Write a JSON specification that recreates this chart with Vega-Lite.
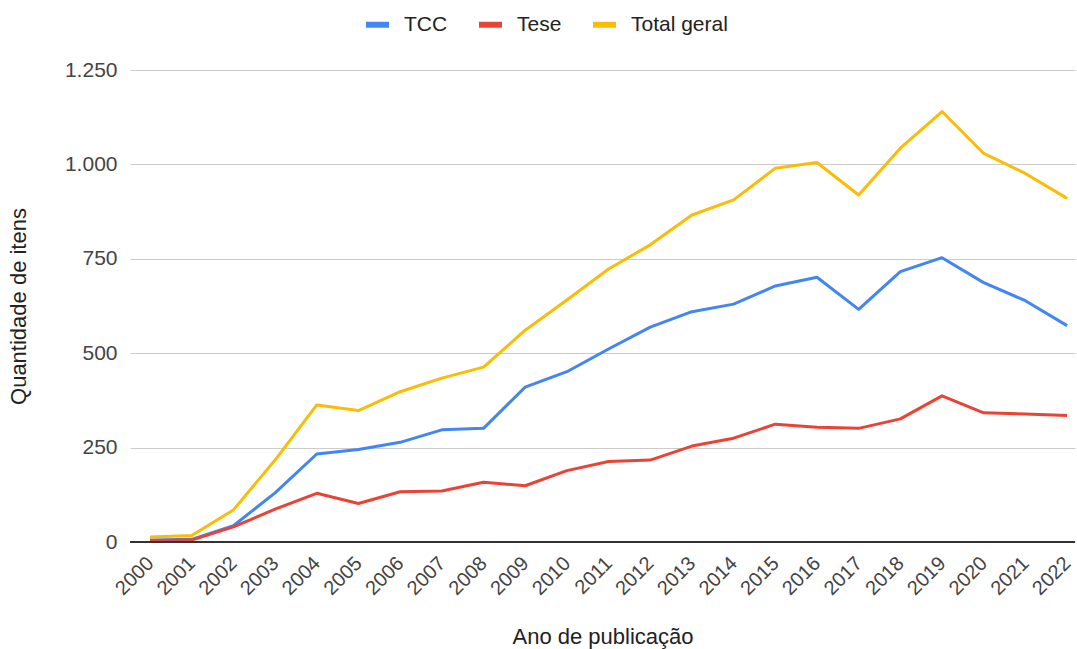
{
  "$schema": "https://vega.github.io/schema/vega-lite/v6.json",
  "width": 945,
  "height": 472,
  "autosize": {"type": "none"},
  "padding": {"left": 130, "top": 70, "right": 2, "bottom": 107},
  "background": "white",
  "config": {
    "font": "Liberation Sans",
    "view": {"stroke": null},
    "axis": {"labelFont": "Liberation Sans", "titleFont": "Liberation Sans", "labelColor": "#444444", "titleColor": "#222222", "titleFontWeight": "normal", "labelFontSize": 21, "titleFontSize": 22}
  },
  "data": {
    "values": [
      {"ano": 2000, "serie": "TCC", "qtd": 5}, {"ano": 2001, "serie": "TCC", "qtd": 7}, {"ano": 2002, "serie": "TCC", "qtd": 43}, {"ano": 2003, "serie": "TCC", "qtd": 130}, {"ano": 2004, "serie": "TCC", "qtd": 233}, {"ano": 2005, "serie": "TCC", "qtd": 245}, {"ano": 2006, "serie": "TCC", "qtd": 264}, {"ano": 2007, "serie": "TCC", "qtd": 297}, {"ano": 2008, "serie": "TCC", "qtd": 301}, {"ano": 2009, "serie": "TCC", "qtd": 410}, {"ano": 2010, "serie": "TCC", "qtd": 451}, {"ano": 2011, "serie": "TCC", "qtd": 511}, {"ano": 2012, "serie": "TCC", "qtd": 569}, {"ano": 2013, "serie": "TCC", "qtd": 610}, {"ano": 2014, "serie": "TCC", "qtd": 630}, {"ano": 2015, "serie": "TCC", "qtd": 678}, {"ano": 2016, "serie": "TCC", "qtd": 701}, {"ano": 2017, "serie": "TCC", "qtd": 616}, {"ano": 2018, "serie": "TCC", "qtd": 716}, {"ano": 2019, "serie": "TCC", "qtd": 753}, {"ano": 2020, "serie": "TCC", "qtd": 687}, {"ano": 2021, "serie": "TCC", "qtd": 639}, {"ano": 2022, "serie": "TCC", "qtd": 573},
      {"ano": 2000, "serie": "Tese", "qtd": 3}, {"ano": 2001, "serie": "Tese", "qtd": 5}, {"ano": 2002, "serie": "Tese", "qtd": 40}, {"ano": 2003, "serie": "Tese", "qtd": 87}, {"ano": 2004, "serie": "Tese", "qtd": 129}, {"ano": 2005, "serie": "Tese", "qtd": 102}, {"ano": 2006, "serie": "Tese", "qtd": 133}, {"ano": 2007, "serie": "Tese", "qtd": 135}, {"ano": 2008, "serie": "Tese", "qtd": 158}, {"ano": 2009, "serie": "Tese", "qtd": 149}, {"ano": 2010, "serie": "Tese", "qtd": 189}, {"ano": 2011, "serie": "Tese", "qtd": 213}, {"ano": 2012, "serie": "Tese", "qtd": 217}, {"ano": 2013, "serie": "Tese", "qtd": 254}, {"ano": 2014, "serie": "Tese", "qtd": 275}, {"ano": 2015, "serie": "Tese", "qtd": 312}, {"ano": 2016, "serie": "Tese", "qtd": 304}, {"ano": 2017, "serie": "Tese", "qtd": 301}, {"ano": 2018, "serie": "Tese", "qtd": 326}, {"ano": 2019, "serie": "Tese", "qtd": 387}, {"ano": 2020, "serie": "Tese", "qtd": 342}, {"ano": 2021, "serie": "Tese", "qtd": 339}, {"ano": 2022, "serie": "Tese", "qtd": 335},
      {"ano": 2000, "serie": "Total geral", "qtd": 13}, {"ano": 2001, "serie": "Total geral", "qtd": 17}, {"ano": 2002, "serie": "Total geral", "qtd": 85}, {"ano": 2003, "serie": "Total geral", "qtd": 217}, {"ano": 2004, "serie": "Total geral", "qtd": 363}, {"ano": 2005, "serie": "Total geral", "qtd": 348}, {"ano": 2006, "serie": "Total geral", "qtd": 398}, {"ano": 2007, "serie": "Total geral", "qtd": 434}, {"ano": 2008, "serie": "Total geral", "qtd": 463}, {"ano": 2009, "serie": "Total geral", "qtd": 561}, {"ano": 2010, "serie": "Total geral", "qtd": 641}, {"ano": 2011, "serie": "Total geral", "qtd": 723}, {"ano": 2012, "serie": "Total geral", "qtd": 787}, {"ano": 2013, "serie": "Total geral", "qtd": 866}, {"ano": 2014, "serie": "Total geral", "qtd": 906}, {"ano": 2015, "serie": "Total geral", "qtd": 990}, {"ano": 2016, "serie": "Total geral", "qtd": 1005}, {"ano": 2017, "serie": "Total geral", "qtd": 919}, {"ano": 2018, "serie": "Total geral", "qtd": 1043}, {"ano": 2019, "serie": "Total geral", "qtd": 1140}, {"ano": 2020, "serie": "Total geral", "qtd": 1029}, {"ano": 2021, "serie": "Total geral", "qtd": 976}, {"ano": 2022, "serie": "Total geral", "qtd": 910}
    ]
  },
  "layer": [
    {
      "mark": {"type": "line", "strokeWidth": 3, "strokeJoin": "round"},
      "encoding": {
        "x": {
          "field": "ano", "type": "quantitative",
          "scale": {"domain": [1999.52, 2022.19], "nice": false, "zero": false},
          "axis": {
            "title": "Ano de publicação", "titleY": 101, "titleBaseline": "alphabetic",
            "values": [2000,2001,2002,2003,2004,2005,2006,2007,2008,2009,2010,2011,2012,2013,2014,2015,2016,2017,2018,2019,2020,2021,2022],
            "format": "d", "labelAngle": -45, "labelAlign": "right", "labelBaseline": "middle", "labelFontSize": 20,
            "labelPadding": 18, "labelDx": 12, "labelDy": 18, "ticks": false, "domain": false, "grid": false, "labelOverlap": false, "labelFlush": false
          }
        },
        "y": {
          "field": "qtd", "type": "quantitative",
          "scale": {"domain": [0, 1250], "nice": false},
          "axis": {
            "title": "Quantidade de itens", "titleX": -112, "titleY": 236, "titleAngle": -90, "titleBaseline": "middle", "titleAlign": "center",
            "values": [0, 250, 500, 750, 1000, 1250],
            "labelExpr": "replace(format(datum.value, ','), ',', '.')",
            "ticks": false, "domain": false, "grid": true, "gridColor": "#cccccc", "labelPadding": 13
          }
        },
        "color": {
          "field": "serie", "type": "nominal",
          "scale": {"domain": ["TCC", "Tese", "Total geral"], "range": ["#4285F4", "#EA4335", "#FBBC04"]},
          "legend": {
            "title": null, "orient": "none", "direction": "horizontal", "legendX": 236, "legendY": -57,
            "symbolType": "M-1,-0.26H1V0.26H-1Z", "symbolSize": 529, "symbolStrokeWidth": 0,
            "labelFontSize": 21, "labelFont": "Liberation Sans", "labelColor": "#222222",
            "labelOffset": 15, "columnPadding": 31,
            "encode": {"symbols": {"update": {"fill": {"scale": "color", "field": "value"}, "strokeWidth": {"value": 0}}}}
          }
        }
      }
    },
    {
      "mark": {"type": "rule", "color": "#333333", "strokeWidth": 2},
      "encoding": {"y": {"datum": 0}}
    }
  ]
}
